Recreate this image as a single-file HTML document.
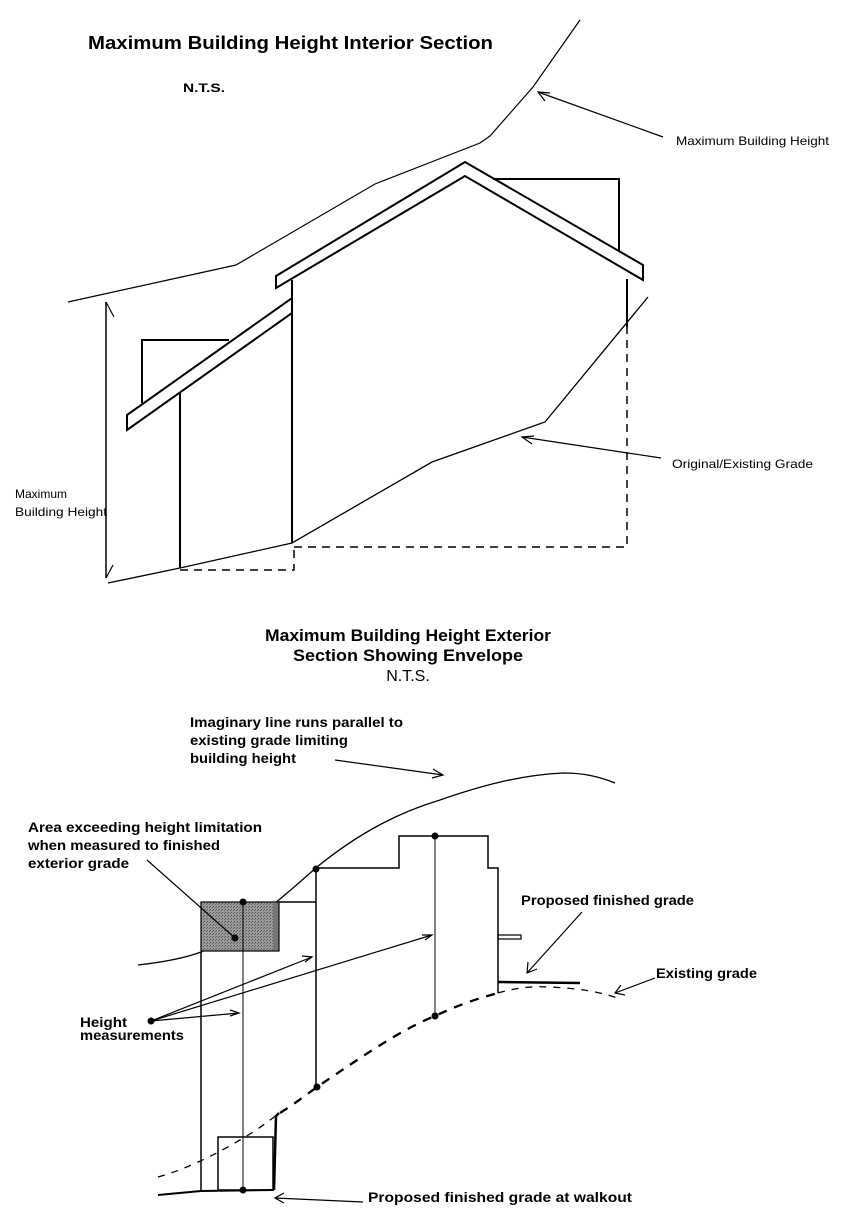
<!DOCTYPE html>
<html><head><meta charset="utf-8"><style>
html,body{margin:0;padding:0;background:#fff}
svg{display:block}
text{font-family:"Liberation Sans",Arial,sans-serif;fill:#000}
.b{font-weight:bold}
</style></head><body>
<svg width="843" height="1220" viewBox="0 0 843 1220" xmlns="http://www.w3.org/2000/svg">
<defs>
<pattern id="st" width="3" height="3" patternUnits="userSpaceOnUse">
<rect width="3" height="3" fill="#9a9a9a"/><rect width="1" height="1" fill="#555"/><rect x="2" y="1" width="1" height="1" fill="#666"/>
</pattern>
</defs>
<g fill="none" stroke="#000">
<!-- TOP SECTION -->
<text x="88" y="49" class="b" font-size="18" stroke="none" textLength="405" lengthAdjust="spacingAndGlyphs">Maximum Building Height Interior Section</text>
<text x="183" y="92" class="b" font-size="12" stroke="none" textLength="42" lengthAdjust="spacingAndGlyphs">N.T.S.</text>
<text x="676" y="145" font-size="12" stroke="none" textLength="153" lengthAdjust="spacingAndGlyphs">Maximum  Building Height</text>
<text x="672" y="468" font-size="12" stroke="none" textLength="141" lengthAdjust="spacingAndGlyphs">Original/Existing Grade</text>
<text x="15" y="498" font-size="12" stroke="none">Maximum</text>
<text x="15" y="516" font-size="12" stroke="none" textLength="92" lengthAdjust="spacingAndGlyphs">Building Height</text>

<polyline stroke-width="1.2" points="68,302 236,265 375,184 480,143 490,136 533,87 580,20"/>
<line x1="663" y1="137" x2="538" y2="92" stroke-width="1.2"/>
<polyline stroke-width="1.2" points="545,101 538,92 550,93"/>
<line x1="106" y1="302" x2="106" y2="578" stroke-width="1.5"/>
<line x1="106" y1="302" x2="114" y2="317" stroke-width="1.2"/>
<line x1="106" y1="578" x2="113" y2="565" stroke-width="1.2"/>
<polyline stroke-width="1.3" points="108,583 180,568 292,543 432,462 545,422 648,297"/>
<line x1="661" y1="458" x2="522" y2="437" stroke-width="1.2"/>
<polyline stroke-width="1.2" points="532,444 522,437 534,436"/>
<polyline stroke-width="1.5" stroke-dasharray="8,6" points="180,570 294,570 294,547"/>
<polyline stroke-width="1.5" stroke-dasharray="8,6" points="294,547 627,547 627,327"/>
<polyline stroke-width="2" points="142,403 142,340 229,340"/>
<polygon stroke-width="2" points="127,415 127,430 292,313 292,298"/>
<line x1="180" y1="393" x2="180" y2="568" stroke-width="2"/>
<line x1="292" y1="280" x2="292" y2="543" stroke-width="2"/>
<polygon stroke-width="2" points="276,276 465,162 643,265 643,280 465,176 276,288"/>
<polyline stroke-width="2" points="493,179 619,179 619,252"/>
<line x1="627" y1="279" x2="627" y2="327" stroke-width="2"/>

<!-- BOTTOM SECTION -->
<text x="408" y="641" class="b" font-size="17" text-anchor="middle" stroke="none" textLength="286" lengthAdjust="spacingAndGlyphs">Maximum Building Height Exterior</text>
<text x="408" y="661" class="b" font-size="17" text-anchor="middle" stroke="none" textLength="230" lengthAdjust="spacingAndGlyphs">Section Showing Envelope</text>
<text x="408" y="681" font-size="16" text-anchor="middle" stroke="none">N.T.S.</text>
<g class="b" font-size="13.5" stroke="none">
<text x="190" y="727" textLength="213" lengthAdjust="spacingAndGlyphs">Imaginary line runs parallel to</text>
<text x="190" y="745" textLength="158" lengthAdjust="spacingAndGlyphs">existing grade limiting</text>
<text x="190" y="763" textLength="106" lengthAdjust="spacingAndGlyphs">building height</text>
<text x="28" y="832" textLength="234" lengthAdjust="spacingAndGlyphs">Area exceeding height limitation</text>
<text x="28" y="850" textLength="192" lengthAdjust="spacingAndGlyphs">when measured to finished</text>
<text x="28" y="868" textLength="101" lengthAdjust="spacingAndGlyphs">exterior grade</text>
<text x="521" y="905" textLength="173" lengthAdjust="spacingAndGlyphs">Proposed finished grade</text>
<text x="656" y="978" textLength="101" lengthAdjust="spacingAndGlyphs">Existing grade</text>
<text x="80" y="1027" textLength="47" lengthAdjust="spacingAndGlyphs">Height</text>
<text x="80" y="1040" textLength="104" lengthAdjust="spacingAndGlyphs">measurements</text>
<text x="368" y="1202" textLength="264" lengthAdjust="spacingAndGlyphs">Proposed finished grade at walkout</text>
</g>
<line x1="335" y1="760" x2="443" y2="775" stroke-width="1.2"/>
<polyline stroke-width="1.2" points="433,769 443,775 432,778"/>
<path stroke-width="1.3" d="M138,965 C165,962 185,958 201,952 C245,932 285,895 317,867 C360,832 400,812 440,800 C480,786 520,775 563,773 C585,773 600,777 615,783"/>
<rect x="201" y="902" width="78" height="49" fill="url(#st)" stroke="#000" stroke-width="1.2"/>
<rect x="273" y="903" width="5" height="47" fill="#777" stroke="none"/>
<line x1="279" y1="902" x2="316" y2="902" stroke-width="1.5"/>
<polyline stroke-width="1.5" points="316,1087 316,868 399,868 399,836 488,836 488,868 498,868 498,993"/>
<rect x="498" y="935" width="23" height="4" stroke-width="1.2"/>
<line x1="498" y1="982" x2="580" y2="983" stroke-width="2.5"/>
<line x1="201" y1="952" x2="201" y2="1191" stroke-width="1.5"/>
<line x1="243" y1="902" x2="243" y2="1190" stroke-width="1"/>
<line x1="435" y1="836" x2="435" y2="1016" stroke-width="1"/>
<rect x="218" y="1137" width="55" height="53" stroke-width="1.5"/>
<polyline stroke-width="2.5" points="279,1113 276,1116 274,1190"/>
<polyline stroke-width="2" points="158,1195 201,1191 274,1190"/>
<path stroke-width="1.3" stroke-dasharray="7,7" d="M158,1177 C190,1168 220,1152 245,1137 C262,1127 272,1118 280,1113"/>
<path stroke-width="2.3" stroke-dasharray="9,8" d="M280,1113 C300,1100 310,1092 317,1087 C360,1058 400,1030 435,1016 C460,1004 480,998 498,993"/>
<path stroke-width="1.3" stroke-dasharray="7,7" d="M498,993 C515,988 530,986 550,987 C570,988 595,990 617,998"/>
<g fill="#000" stroke="none">
<circle cx="243" cy="902" r="3.5"/><circle cx="235" cy="938" r="3.5"/><circle cx="243" cy="1190" r="3.5"/>
<circle cx="316" cy="869" r="3.5"/><circle cx="317" cy="1087" r="3.5"/>
<circle cx="435" cy="836" r="3.5"/><circle cx="435" cy="1016" r="3.5"/>
<circle cx="151" cy="1021" r="3.5"/>
</g>
<line x1="147" y1="860" x2="235" y2="938" stroke-width="1.2"/>
<line x1="151" y1="1021" x2="312" y2="957" stroke-width="1.2"/>
<polyline stroke-width="1.2" points="302,956 312,957 305,962"/>
<line x1="151" y1="1021" x2="432" y2="935" stroke-width="1.2"/>
<polyline stroke-width="1.2" points="422,935 432,935 425,940"/>
<line x1="151" y1="1021" x2="239" y2="1013" stroke-width="1.2"/>
<polyline stroke-width="1.2" points="230,1010 239,1013 230,1016"/>
<line x1="582" y1="912" x2="527" y2="973" stroke-width="1.2"/>
<polyline stroke-width="1.2" points="528,962 527,973 537,969"/>
<line x1="655" y1="978" x2="615" y2="993" stroke-width="1.2"/>
<polyline stroke-width="1.2" points="621,985 615,993 625,995"/>
<line x1="363" y1="1202" x2="275" y2="1198" stroke-width="1.2"/>
<polyline stroke-width="1.2" points="284,1193 275,1198 284,1203"/>
</g>
</svg>
</body></html>
